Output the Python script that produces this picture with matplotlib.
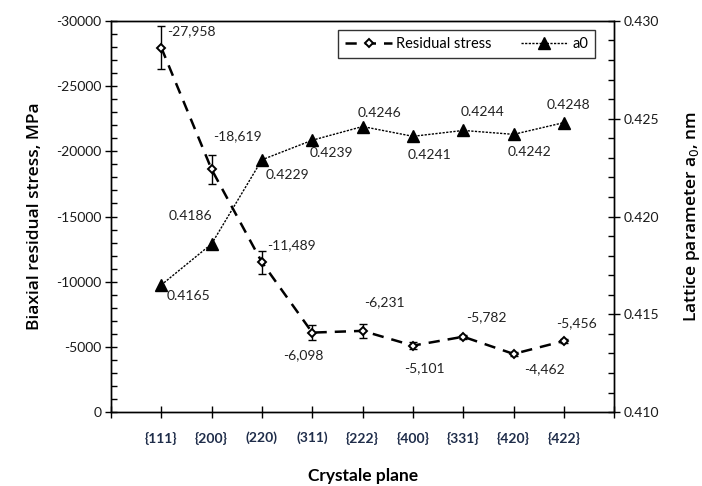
import matplotlib
matplotlib.use("Agg")
import matplotlib.pyplot as plt
from matplotlib.ticker import MultipleLocator, FormatStrFormatter, FixedLocator

plt.rcParams['font.family'] = ['Lato', 'DejaVu Sans']
plt.rcParams['axes.unicode_minus'] = False

planes = ['{111}', '{200}', '(220)', '(311)', '{222}', '{400}', '{331}', '{420}', '{422}']
stress = [-27958, -18619, -11489, -6098, -6231, -5101, -5782, -4462, -5456]
stress_err = [1650, 1100, 870, 550, 540, 260, 150, 130, 130]
stress_labels = ['-27,958', '-18,619', '-11,489', '-6,098', '-6,231', '-5,101', '-5,782', '-4,462', '-5,456']
a0 = [0.4165, 0.4186, 0.4229, 0.4239, 0.4246, 0.4241, 0.4244, 0.4242, 0.4248]

# label offsets in pixels (dx, dy) relative to each point
stress_off = [(30, 16), (26, 33), (30, 17), (-9, -23), (22, 29), (12, -23), (23, 20), (31, -15), (13, 18)]
a0_off = [(27, -11), (-21, 28), (26, -15), (19, -13), (17, 14), (17, -19), (19, 18), (16, -18), (5, 18)]

fig = plt.figure(figsize=(7.02, 4.86), dpi=100)
ax = fig.add_axes([0.158, 0.152, 0.717, 0.805])
x = list(range(1, len(planes) + 1))

ax.errorbar(x, stress, yerr=stress_err, fmt='none', ecolor='black', elinewidth=1.0,
            capsize=2.6, capthick=1.0, zorder=3)
l1, = ax.plot(x, stress, color='black', lw=1.8, ls=(0, (4.5, 3.2)), marker='D', ms=4.5,
              mfc='white', mec='black', mew=1.4, zorder=4, label='Residual stress')
ax.set_xlim(0, 10)
ax.set_ylim(0, -30000)
ax.yaxis.set_major_locator(MultipleLocator(5000))
ax.yaxis.set_minor_locator(MultipleLocator(1000))
ax.xaxis.set_major_locator(FixedLocator(range(0, 11)))
ax.set_xticklabels([''] + planes + [''], fontweight='bold', color='#1f2d4a', fontsize=9.5)

ax2 = ax.twinx()
l2, = ax2.plot(x, a0, color='black', lw=1.0, ls=(0, (1.6, 1.0)), marker='^', ms=8,
               mfc='black', mec='black', zorder=4, label='a0')
ax2.set_ylim(0.410, 0.430)
ax2.yaxis.set_major_locator(MultipleLocator(0.005))
ax2.yaxis.set_minor_locator(MultipleLocator(0.001))
ax2.yaxis.set_major_formatter(FormatStrFormatter('%.3f'))

for a in (ax, ax2):
    a.tick_params(which='major', direction='inout', length=8, width=1.0, labelsize=10, pad=3,
                  labelcolor='#1a1a1a')
    a.tick_params(which='minor', direction='in', length=4, width=1.0)
    for s in a.spines.values():
        s.set_linewidth(1.0)
ax.tick_params(axis='x', which='major', length=8, pad=10, labelcolor='#1f2d4a')

for xi, yi, t, (dx, dy) in zip(x, stress, stress_labels, stress_off):
    ax.annotate(t, (xi, yi), xytext=(dx, dy), textcoords='offset pixels',
                ha='center', va='center', fontsize=10, color='#222222', zorder=6)
for xi, yi, (dx, dy) in zip(x, a0, a0_off):
    ax2.annotate(f'{yi:.4f}', (xi, yi), xytext=(dx, dy), textcoords='offset pixels',
                 ha='center', va='center', fontsize=10, color='#222222', zorder=6)

label_font = dict(fontsize=12.5, fontfamily=['Open Sans', 'DejaVu Sans'], fontweight='semibold')
ax.set_ylabel('Biaxial residual stress, MPa', labelpad=9, **label_font)
ax2.set_ylabel('Lattice parameter a$_0$, nm', labelpad=16, **label_font)
ax.set_xlabel('Crystale plane', fontsize=12.5, fontweight='bold', labelpad=17)

leg = ax2.legend([l1, l2], ['Residual stress', 'a0'], ncol=2, loc='upper right',
                 bbox_to_anchor=(0.968, 0.985), frameon=True, fancybox=False,
                 edgecolor='black', fontsize=10.5, handlelength=3.2, columnspacing=2.0,
                 handletextpad=0.3, borderpad=0.5, borderaxespad=0.2)
leg.get_frame().set_linewidth(1.0)

fig.savefig('out.png', dpi=100)
